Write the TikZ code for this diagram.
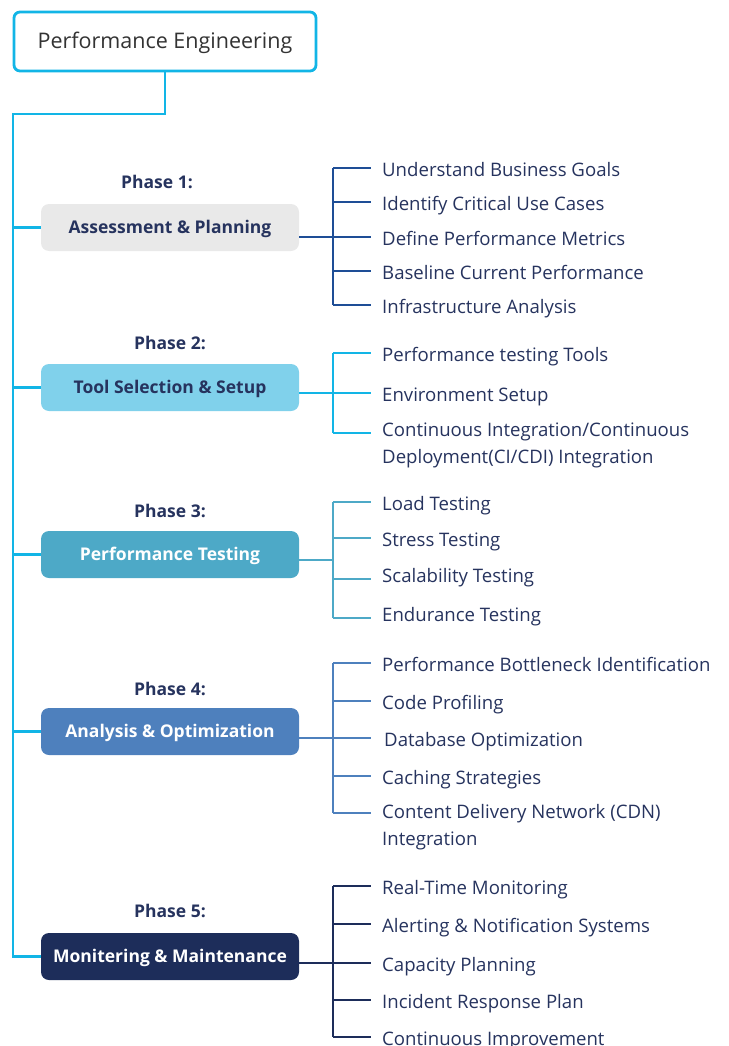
\documentclass[tikz,border=0pt]{standalone}
\usepackage{fontspec}
\setmainfont{Open Sans}
\definecolor{trunkc}{HTML}{12B5E6}
\definecolor{navyc}{HTML}{26335E}
\definecolor{rootc}{HTML}{333333}
\definecolor{oneF}{HTML}{E9E9E9}
\definecolor{oneL}{HTML}{1E4E96}
\definecolor{twoF}{HTML}{80D1EB}
\definecolor{threeF}{HTML}{4DA9C7}
\definecolor{fourF}{HTML}{4E80BD}
\definecolor{fiveF}{HTML}{1D2D5A}
\begin{document}
\begin{tikzpicture}[x=1pt,y=-1pt]
        \tikzstyle{root}=[draw=trunkc,line width=2.8pt,rounded corners=6pt,fill=white,minimum width=302pt,minimum height=59pt,text height=15pt,text depth=0pt,text=rootc,font=\fontsize{21.5}{24}\selectfont]
        \tikzstyle{phase}=[rounded corners=8pt,minimum width=258pt,minimum height=47pt,inner sep=0pt,text height=12.5pt,text depth=0pt,font=\bfseries\fontsize{17.5}{20}\selectfont]
        \tikzstyle{phasetitle}=[text=navyc,font=\bfseries\fontsize{17.5}{20}\selectfont]
        \tikzstyle{item}=[anchor=west,inner sep=0pt,text height=17.3pt,text depth=0pt,text=navyc,font=\fontsize{18.6}{27}\selectfont]
        \tikzstyle{item2}=[anchor=north west,inner sep=0pt,align=left,text=navyc,font=\fontsize{18.6}{27}\selectfont]
        \tikzstyle{edge}=[draw,line width=2.8pt]
        \useasboundingbox (0,0) rectangle (728,1046);

        % root and main trunk
        \node [root] (pe) at (165,41.5) {Performance Engineering};
        \coordinate (bend) at (165,114);
        \coordinate (trunk) at (13,114);

        % phase boxes
        \node [phasetitle] (h1) at (157,182) {Phase 1:};
        \node [phase,fill=oneF,text=navyc] (p1) at (170,227.5) {Assessment \& Planning};
        \node [phasetitle] (h2) at (170,343) {Phase 2:};
        \node [phase,fill=twoF,text=navyc] (p2) at (170,387.5) {Tool Selection \& Setup};
        \node [phasetitle] (h3) at (170,511) {Phase 3:};
        \node [phase,fill=threeF,text=white] (p3) at (170,554.5) {Performance Testing};
        \node [phasetitle] (h4) at (170,689) {Phase 4:};
        \node [phase,fill=fourF,text=white] (p4) at (170,731.5) {Analysis \& Optimization};
        \node [phasetitle] (h5) at (170,911) {Phase 5:};
        \node [phase,fill=fiveF,text=white] (p5) at (170,956.5) {Monitering \& Maintenance};

        \path[edge,draw=trunkc] (pe.south) -- (bend) -- (trunk) -- (trunk |- p5.west) -- (p5.west);
        \path[edge,draw=trunkc] (trunk |- p1.west) -- (p1.west);
        \path[edge,draw=trunkc] (trunk |- p2.west) -- (p2.west);
        \path[edge,draw=trunkc] (trunk |- p3.west) -- (p3.west);
        \path[edge,draw=trunkc] (trunk |- p4.west) -- (p4.west);

        % phase 1
        \node [item] (i11) at (382,168) {Understand Business Goals};
        \node [item] (i12) at (382,202) {Identify Critical Use Cases};
        \node [item] (i13) at (382,237) {Define Performance Metrics};
        \node [item] (i14) at (382,271) {Baseline Current Performance};
        \node [item] (i15) at (382,305) {Infrastructure Analysis};
        \coordinate (t1) at (333,237);
        \path[edge,draw=oneL] (p1.east |- t1) -- (t1);
        \path[edge,draw=oneL] (t1 |- i11) -- (t1 |- i15);
        \path[edge,draw=oneL] (t1 |- i11) -- ([xshift=-11pt]i11.west);
        \path[edge,draw=oneL] (t1 |- i12) -- ([xshift=-11pt]i12.west);
        \path[edge,draw=oneL] (t1 |- i13) -- ([xshift=-11pt]i13.west);
        \path[edge,draw=oneL] (t1 |- i14) -- ([xshift=-11pt]i14.west);
        \path[edge,draw=oneL] (t1 |- i15) -- ([xshift=-11pt]i15.west);

        % phase 2
        \node [item] (i21) at (382,353) {Performance testing Tools};
        \node [item] (i22) at (382,393) {Environment Setup};
        \node [item2] (i23) at (382,423) {Continuous Integration/Continuous\\Deployment(CI/CDI) Integration};
        \coordinate (t2) at (333,393);
        \coordinate (b23) at (371,433);
        \path[edge,draw=trunkc] (p2.east |- t2) -- (t2);
        \path[edge,draw=trunkc] (t2 |- i21) -- (t2 |- b23);
        \path[edge,draw=trunkc] (t2 |- i21) -- ([xshift=-11pt]i21.west);
        \path[edge,draw=trunkc] (t2 |- i22) -- ([xshift=-11pt]i22.west);
        \path[edge,draw=trunkc] (t2 |- b23) -- (b23);

        % phase 3
        \node [item] (i31) at (382,502) {Load Testing};
        \node [item] (i32) at (382,538) {Stress Testing};
        \node [item,text height=7.3pt] (i33) at (382,579) {Scalability Testing};
        \node [item,text height=7.3pt] (i34) at (382,618) {Endurance Testing};
        \coordinate (t3) at (333,560);
        \path[edge,draw=threeF] (p3.east |- t3) -- (t3);
        \path[edge,draw=threeF] (t3 |- i31) -- (t3 |- i34);
        \path[edge,draw=threeF] (t3 |- i31) -- ([xshift=-11pt]i31.west);
        \path[edge,draw=threeF] (t3 |- i32) -- ([xshift=-11pt]i32.west);
        \path[edge,draw=threeF] (t3 |- i33) -- ([xshift=-11pt]i33.west);
        \path[edge,draw=threeF] (t3 |- i34) -- ([xshift=-11pt]i34.west);

        % phase 4
        \node [item] (i41) at (382,663) {Performance Bottleneck Identification};
        \node [item] (i42) at (382,701) {Code Profiling};
        \node [item] (i43) at (384,738) {Database Optimization};
        \node [item] (i44) at (382,776) {Caching Strategies};
        \node [item2] (i45) at (382,804) {Content Delivery Network (CDN)\\Integration};
        \coordinate (t4) at (333,738);
        \coordinate (b45) at (371,813);
        \path[edge,draw=fourF] (p4.east |- t4) -- (t4);
        \path[edge,draw=fourF] (t4 |- i41) -- (t4 |- b45);
        \path[edge,draw=fourF] (t4 |- i41) -- ([xshift=-11pt]i41.west);
        \path[edge,draw=fourF] (t4 |- i42) -- ([xshift=-11pt]i42.west);
        \path[edge,draw=fourF] (t4 |- i43) -- ([xshift=-13pt]i43.west);
        \path[edge,draw=fourF] (t4 |- i44) -- ([xshift=-11pt]i44.west);
        \path[edge,draw=fourF] (t4 |- b45) -- (b45);

        % phase 5
        \node [item] (i51) at (382,886) {Real-Time Monitoring};
        \node [item] (i52) at (382,924) {Alerting \& Notification Systems};
        \node [item] (i53) at (382,963) {Capacity Planning};
        \node [item] (i54) at (382,1000) {Incident Response Plan};
        \node [item] (i55) at (382,1037) {Continuous Improvement};
        \coordinate (t5) at (333,963);
        \path[edge,draw=fiveF] (p5.east |- t5) -- (t5);
        \path[edge,draw=fiveF] (t5 |- i51) -- (t5 |- i55);
        \path[edge,draw=fiveF] (t5 |- i51) -- ([xshift=-11pt]i51.west);
        \path[edge,draw=fiveF] (t5 |- i52) -- ([xshift=-11pt]i52.west);
        \path[edge,draw=fiveF] (t5 |- i53) -- ([xshift=-11pt]i53.west);
        \path[edge,draw=fiveF] (t5 |- i54) -- ([xshift=-11pt]i54.west);
        \path[edge,draw=fiveF] (t5 |- i55) -- ([xshift=-11pt]i55.west);
\end{tikzpicture}
\end{document}
